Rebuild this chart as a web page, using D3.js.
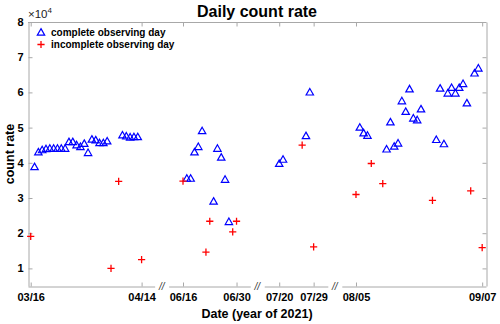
<!DOCTYPE html>
<html>
<head>
<meta charset="utf-8">
<script src="https://cdn.jsdelivr.net/npm/d3@7"></script>
<style>
  body { margin: 0; background: #fff; }
  text { font-family: "Liberation Sans", Arial, Helvetica, sans-serif; }
</style>
</head>
<body>
<svg id="chart" width="500" height="324"></svg>
<script>
// complete observing days (count rate in units of 1e4)
const completeDates = [
  "2021-03-17", "2021-03-18", "2021-03-19", "2021-03-20", "2021-03-21", "2021-03-22",
  "2021-03-23", "2021-03-24", "2021-03-25", "2021-03-26", "2021-03-27", "2021-03-28",
  "2021-03-29", "2021-03-30", "2021-03-31", "2021-04-01", "2021-04-02", "2021-04-03",
  "2021-04-04", "2021-04-05", "2021-04-09", "2021-04-10", "2021-04-11", "2021-04-12",
  "2021-04-13",
  "2021-06-17", "2021-06-18", "2021-06-19", "2021-06-20", "2021-06-21", "2021-06-24",
  "2021-06-25", "2021-06-26", "2021-06-27", "2021-06-28",
  "2021-07-20", "2021-07-21", "2021-07-27", "2021-07-28",
  "2021-08-06", "2021-08-07", "2021-08-08", "2021-08-13", "2021-08-14", "2021-08-15",
  "2021-08-16", "2021-08-17", "2021-08-18", "2021-08-19", "2021-08-20", "2021-08-21",
  "2021-08-22", "2021-08-26", "2021-08-27", "2021-08-28", "2021-08-29", "2021-08-30",
  "2021-08-31", "2021-09-01", "2021-09-02", "2021-09-03", "2021-09-05", "2021-09-06"
];
const completeValues = [
  3.88, 4.30, 4.36, 4.39, 4.40, 4.40,
  4.40, 4.40, 4.40, 4.59, 4.59, 4.50,
  4.45, 4.54, 4.28, 4.66, 4.64, 4.56,
  4.56, 4.61, 4.78, 4.75, 4.72, 4.73,
  4.73,
  3.55, 3.55, 4.30, 4.45, 4.90, 2.90,
  4.40, 4.15, 3.52, 2.32,
  3.97, 4.09, 4.76, 6.00,
  5.00, 4.84, 4.77, 4.38, 5.15, 4.46,
  4.55, 5.75, 5.45, 6.09, 5.26, 5.21,
  5.52, 4.65, 6.11, 4.53, 5.97, 6.13,
  5.97, 6.13, 6.24, 5.69, 6.54, 6.68
];

// incomplete observing days
const incompleteDates = [
  "2021-03-16", "2021-04-06", "2021-04-08", "2021-04-14",
  "2021-06-16", "2021-06-22", "2021-06-23", "2021-06-29", "2021-06-30",
  "2021-07-26", "2021-07-29",
  "2021-08-05", "2021-08-09", "2021-08-12", "2021-08-25", "2021-09-04", "2021-09-07"
];
const incompleteValues = [
  1.91, 1.00, 3.47, 1.25,
  3.48, 1.46, 2.34, 2.04, 2.34,
  4.50, 1.61,
  3.10, 3.98, 3.41, 2.93, 3.20, 1.59
];

// broken x axis: shown date ranges and their ticks
const segmentStarts = ["2021-03-15T07:00", "2021-06-12T06:00", "2021-07-16T02:00", "2021-08-01T07:00"];
const segmentEnds   = ["2021-04-17T10:00", "2021-07-03T14:00", "2021-08-01T17:00", "2021-09-08T00:00"];
const segmentTicks  = [
  ["2021-03-16", "2021-04-14"],
  ["2021-06-16", "2021-06-30"],
  ["2021-07-20", "2021-07-29"],
  ["2021-08-05", "2021-09-07"]
];
const yTicks = [1, 2, 3, 4, 5, 6, 7, 8];

const width = 500;
const height = 324;
const margin = { top: 22, right: 14, bottom: 38, left: 28 };
const plotLeft = margin.left;
const plotRight = width - margin.right;
const plotTop = margin.top;
const plotBottom = height - margin.bottom;
const gap = 14;
const axisColor = "#a8a8a8";

const parseDay = d3.timeParse("%Y-%m-%d");
const parseTime = d3.timeParse("%Y-%m-%dT%H:%M");
const fmt = d3.timeFormat("%m/%d");
const DAY = 864e5;

// Build one time scale per segment, equal px/day across all of them
const segs = segmentStarts.map((s, i) => ({
  start: parseTime(s),
  end: parseTime(segmentEnds[i]),
  ticks: segmentTicks[i].map(parseDay)
}));
const totalDays = d3.sum(segs, s => (s.end - s.start) / DAY);
const pxPerDay = (plotRight - plotLeft - gap * (segs.length - 1)) / totalDays;
let cursor = plotLeft;
segs.forEach(s => {
  const w = (s.end - s.start) / DAY * pxPerDay;
  s.scale = d3.scaleTime().domain([s.start, s.end]).range([cursor, cursor + w]);
  cursor += w + gap;
});

function xPos(date) {
  const s = segs.find(s => date >= s.start && date <= s.end);
  return s.scale(date);
}

const y = d3.scaleLinear().domain([0.5, 8]).range([plotBottom, plotTop]);

const svg = d3.select("#chart");

// frame: top and right lines, left axis
svg.append("line")
  .attr("x1", plotLeft).attr("x2", plotRight)
  .attr("y1", plotTop + 0.5).attr("y2", plotTop + 0.5)
  .attr("stroke", axisColor);

const yLeft = svg.append("g")
  .attr("transform", `translate(${plotLeft + 0.5},0)`)
  .call(d3.axisLeft(y).tickValues(yTicks).tickSizeInner(-4).tickSizeOuter(0).tickPadding(5));
const yRight = svg.append("g")
  .attr("transform", `translate(${plotRight + 0.5},0)`)
  .call(d3.axisRight(y).tickValues(yTicks).tickSizeInner(-4).tickSizeOuter(0).tickFormat(""));

[yLeft, yRight].forEach(g => {
  g.select(".domain").attr("stroke", axisColor);
  g.selectAll(".tick line").attr("stroke", axisColor);
});
yLeft.selectAll(".tick text")
  .attr("fill", "#000")
  .style("font-size", "11px")
  .style("font-weight", "bold");

// bottom (broken) and top axes per segment
segs.forEach(s => {
  const gb = svg.append("g")
    .attr("transform", `translate(0,${plotBottom + 0.5})`)
    .call(d3.axisBottom(s.scale).tickValues(s.ticks).tickSizeInner(-4).tickSizeOuter(0)
      .tickPadding(7).tickFormat(fmt));
  gb.select(".domain").attr("stroke", axisColor);
  gb.selectAll(".tick line").attr("stroke", axisColor);
  gb.selectAll(".tick text")
    .attr("fill", "#000")
    .style("font-size", "11px")
    .style("font-weight", "bold");

  const gt = svg.append("g")
    .attr("transform", `translate(0,${plotTop + 0.5})`)
    .call(d3.axisTop(s.scale).tickValues(s.ticks).tickSizeInner(-4).tickSizeOuter(0).tickFormat(""));
  gt.select(".domain").remove();
  gt.selectAll(".tick line").attr("stroke", axisColor);
});

// break marks between segments
segs.slice(1).forEach((s, i) => {
  const xb = (segs[i].scale.range()[1] + s.scale.range()[0]) / 2;
  svg.append("text")
    .attr("x", xb)
    .attr("y", plotBottom + 4)
    .attr("text-anchor", "middle")
    .attr("fill", "#333")
    .style("font-size", "10px")
    .style("font-style", "italic")
    .text("//");
});

// markers
const triPath = "M0,-3.9L3.7,2.6L-3.7,2.6Z";
svg.append("g")
  .selectAll("path")
  .data(completeDates)
  .join("path")
  .attr("d", triPath)
  .attr("transform", (d, i) => `translate(${xPos(parseDay(d))},${y(completeValues[i])})`)
  .attr("fill", "none")
  .attr("stroke", "#0000ff")
  .attr("stroke-width", 1.2);

const crossPath = "M-3.6,0H3.6M0,-3.6V3.6";
svg.append("g")
  .selectAll("path")
  .data(incompleteDates)
  .join("path")
  .attr("d", crossPath)
  .attr("transform", (d, i) => `translate(${xPos(parseDay(d))},${y(incompleteValues[i])})`)
  .attr("fill", "none")
  .attr("stroke", "#ff0000")
  .attr("stroke-width", 1.3);

// title and labels
const midX = (plotLeft + plotRight) / 2;
svg.append("text")
  .attr("x", midX).attr("y", 17)
  .attr("text-anchor", "middle")
  .style("font-size", "16px")
  .style("font-weight", "bold")
  .text("Daily count rate");

svg.append("text")
  .attr("x", midX).attr("y", 318)
  .attr("text-anchor", "middle")
  .style("font-size", "12.5px")
  .style("font-weight", "bold")
  .text("Date (year of 2021)");

svg.append("text")
  .attr("transform", `translate(13.5,${(plotTop + plotBottom) / 2}) rotate(-90)`)
  .attr("text-anchor", "middle")
  .style("font-size", "12.5px")
  .style("font-weight", "bold")
  .text("count rate");

const expo = svg.append("text")
  .attr("x", plotLeft).attr("y", 18)
  .style("font-size", "11.5px")
  .attr("fill", "#222");
expo.append("tspan").text("\u00d710");
expo.append("tspan").attr("dy", -5).style("font-size", "8px").text("4");

// legend
const legend = svg.append("g");
legend.append("path")
  .attr("d", triPath)
  .attr("transform", "translate(41,32.5)")
  .attr("fill", "none")
  .attr("stroke", "#0000ff")
  .attr("stroke-width", 1.2);
legend.append("path")
  .attr("d", crossPath)
  .attr("transform", "translate(41,44.5)")
  .attr("fill", "none")
  .attr("stroke", "#ff0000")
  .attr("stroke-width", 1.3);
legend.append("text")
  .attr("x", 51).attr("y", 36)
  .style("font-size", "10px")
  .style("font-weight", "bold")
  .text("complete observing day");
legend.append("text")
  .attr("x", 51).attr("y", 48)
  .style("font-size", "10px")
  .style("font-weight", "bold")
  .text("incomplete observing day");
</script>
</body>
</html>
